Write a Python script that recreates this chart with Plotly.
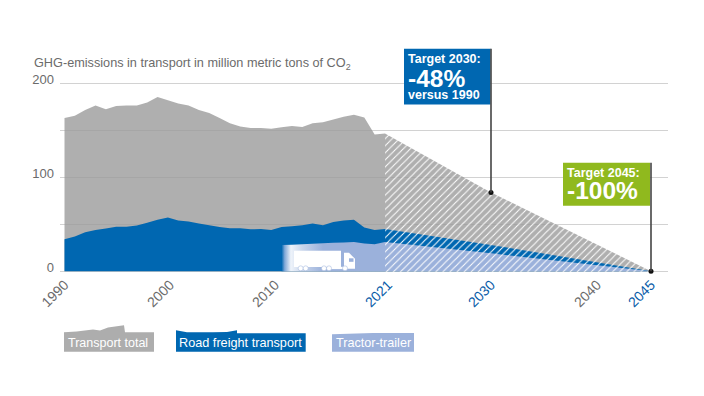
import numpy as np
import plotly.graph_objects as go

# ---- data ----
years = list(range(1990, 2022))
total = [163.6, 166, 172, 177, 173, 176.4, 177, 177, 180, 186, 182.5, 179, 177, 172, 169, 163.6,
         158, 154.6, 153, 153, 152, 153.6, 155, 154, 158, 159, 162, 165, 167, 164, 146, 147]
road = [34, 37, 41.5, 44, 45.4, 47.5, 47.5, 48.6, 51.8, 55, 57.4, 54, 53, 51, 49, 47,
        45.7, 45.7, 44.7, 45, 44, 47, 48, 49, 51, 49, 52.5, 54, 55, 46.5, 44, 45]
tractor_years = list(range(2011, 2022))
tractor = [28, 28.3, 28.7, 29.2, 29.8, 30.3, 30.7, 31, 29.5, 28.7, 31]
target_years = [2021, 2030, 2045]
target_total = [147, 84, 0]
target_road = [45, 28, 0]
target_tractor = [31, 19, 0]
flag_years = [2030, 2045]
flag_values = [84, 0]
tick_labels = ["1990", "2000", "2010", "2021", "2030", "2040", "2045"]
tick_pos = [64.5, 170, 275, 388, 491, 597, 651]
tick_colors = ["#6b6b6b", "#6b6b6b", "#6b6b6b", "#0a5ca8", "#0a5ca8", "#6b6b6b", "#0a5ca8"]
y_ticks = [0, 100, 200]
y_minor = [50, 150]

# ---- style ----
GRAY = "rgba(155,155,155,0.8)"
GRAY_SOLID = "#ADADAD"
BLUE = "#0067B1"
LIGHT = "#9BB1DB"
GREEN = "#90B91E"
TXT = "#6b6b6b"
GRID = "#d2d2d2"
FONT = "Liberation Sans, Arial, sans-serif"

# plot box in pixels; the y range has a small pad so that the 200 and 0 rules are drawn
L, R = 60, 668
PPU = 0.935
Y_LOW, Y_HIGH = -2, 202
Y_ZERO = 271.3
T, B = Y_ZERO - Y_HIGH * PPU, Y_ZERO - Y_LOW * PPU

# x axis is a piecewise time scale (the source stretches the forecast part)
def X(y):
    return np.interp(y, [1990, 2021, 2030, 2045], [64.5, 385, 491, 651])

def px(x):
    return (float(x) - L) / (R - L)

def py(y):
    return (B - float(y)) / (B - T)

def poly(points):
    return "M" + " L".join(f"{px(x):.5f},{py(y):.5f}" for x, y in points) + " Z"

fig = go.Figure()

def area(x, y, color, hatch=False, **kw):
    t = dict(x=list(X(x)), y=y, mode="none", fill="tozeroy", fillcolor=color,
             hoverinfo="skip", showlegend=False)
    if hatch:
        t["fillpattern"] = dict(shape="/", fgcolor="white", bgcolor=color, size=5,
                                solidity=0.2, fgopacity=1)
    t.update(kw)
    fig.add_trace(go.Scatter(**t))

area(years, total, GRAY)
area(target_years, target_total, GRAY, hatch=True)
area(years, road, BLUE)
area(target_years, target_road, BLUE, hatch=True)
area(tractor_years, tractor, LIGHT,
     fillgradient=dict(type="horizontal", colorscale=[
         [0, BLUE], [0.03, "#7fa8d8"], [0.09, "#eef3fa"], [0.2, "#c9d6ec"], [0.4, LIGHT], [1, LIGHT]]))
area(target_years, target_tractor, LIGHT, hatch=True)

shapes = []
ann = []

def rect(x0, y0, x1, y1, color):
    shapes.append(dict(type="rect", xref="paper", yref="paper", x0=px(x0), x1=px(x1), y0=py(y0), y1=py(y1),
                       fillcolor=color, line_width=0, layer="above"))

def path(points, color):
    shapes.append(dict(type="path", xref="paper", yref="paper", layer="above", fillcolor=color,
                       line_width=0, path=poly(points)))

def text(x, y, s, size, color="white", bold=False, anchor="left"):
    ann.append(dict(xref="paper", yref="paper", x=px(x), y=py(y), text=f"<b>{s}</b>" if bold else s,
                    showarrow=False, xanchor=anchor, yanchor="middle", align="left", borderpad=0,
                    font=dict(family=FONT, size=size, color=color)))

# truck
rect(294, 251, 341, 267.3, "white")
path([(344, 253), (349, 253), (355, 259), (355, 269), (344, 269)], "white")
rect(349, 258.5, 353.5, 262, LIGHT)
rect(331, 267, 347, 269.3, "white")
rect(298, 267, 308, 268.5, "white")
for wx in [300.7, 305.7, 324, 329, 345]:
    shapes.append(dict(type="circle", xref="paper", yref="paper", x0=px(wx - 2.5), x1=px(wx + 2.5),
                       y0=py(271), y1=py(266), fillcolor="white", line=dict(color=LIGHT, width=0.5),
                       layer="above"))

# flags
rect(404, 49.3, 490.5, 105, BLUE)
rect(563, 163, 650, 206, GREEN)
for fy, fv, top in zip(flag_years, flag_values, [49.3, 163]):
    xf = px(X(fy))
    shapes.append(dict(type="line", xref="paper", yref="paper", x0=xf, x1=xf, y0=py(top),
                       y1=py(Y_ZERO - fv * PPU), line=dict(color="#444444", width=1.6), layer="above"))
fig.add_trace(go.Scatter(x=list(X(flag_years)), y=flag_values, mode="markers", cliponaxis=False,
                         marker=dict(color="#111111", size=5), hoverinfo="skip", showlegend=False))
text(406.5, 59.5, "Target 2030:", 12.5, bold=True)
text(406.5, 78.5, "-48%", 24.5, bold=True)
text(406.5, 95, "versus 1990", 12.5, bold=True)
text(565.5, 173, "Target 2045:", 12.5, bold=True)
text(565.5, 191, "-100%", 24.5, bold=True)

# legend swatches
path([(64, 332.3), (76.7, 331.7), (93, 329.7), (100, 330.7), (108, 327.7),
      (124, 325.3), (125, 332.3), (154, 332.3), (154, 351.7), (64, 351.7)], GRAY_SOLID)
path([(176, 330.3), (187, 332.3), (213, 332.3), (227, 332), (237, 330.3), (237, 333.3),
      (305.7, 333.3), (305.7, 351.7), (176, 351.7)], BLUE)
path([(332, 334.3), (373, 333), (414, 333), (414, 351.7), (332, 351.7)], LIGHT)
text(66.5, 343, "Transport total", 12.5)
text(177.5, 343, "Road freight transport", 12.7)
text(334.5, 343, "Tractor-trailer", 12.6)

# title
text(33, 64, "GHG-emissions in transport in million metric tons of CO<sub>2</sub>", 12.7, color=TXT)

fig.update_layout(
    width=704, height=396, margin=dict(l=L, r=704 - R, t=T, b=396 - B),
    paper_bgcolor="white", plot_bgcolor="white",
    shapes=shapes, annotations=ann, showlegend=False,
    font=dict(family=FONT, size=12.5, color=TXT),
    xaxis=dict(range=[L, R], showgrid=False, zeroline=False, showline=False, ticks="",
               tickmode="array", tickvals=tick_pos,
               ticktext=[f'<span style="color:{c}">{l}</span>' for l, c in zip(tick_labels, tick_colors)],
               tickangle=-45, tickfont=dict(family=FONT, size=14, color=TXT)),
    yaxis=dict(range=[Y_LOW, Y_HIGH], showgrid=True, gridcolor=GRID, gridwidth=1, zeroline=True,
               zerolinecolor=GRID, zerolinewidth=1, showline=False, ticks="",
               tickmode="array", tickvals=y_ticks,
               minor=dict(tickmode="array", tickvals=y_minor, showgrid=True, gridcolor=GRID, gridwidth=1, ticks=""),
               tickfont=dict(family=FONT, size=13, color=TXT), ticklabelshift=-4, ticklabelstandoff=5),
)
fig.write_html("out.html", config=dict(displayModeBar=False),
               post_script="document.body.style.margin='0';")
